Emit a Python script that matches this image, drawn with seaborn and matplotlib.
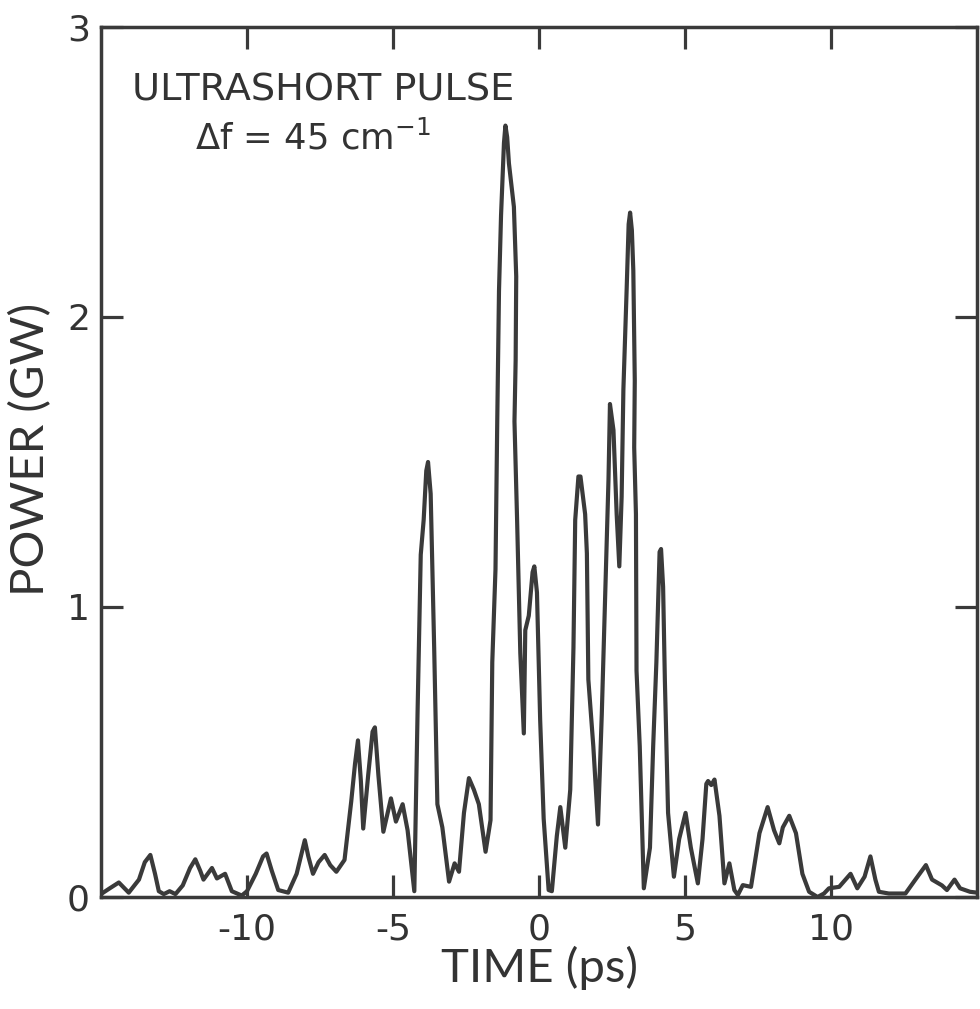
import matplotlib
matplotlib.use("Agg")
import matplotlib.pyplot as plt
import seaborn as sns
import pandas as pd

time_ps = [
    -15.0, -14.7, -14.39, -14.05, -13.7, -13.5, -13.31, -13.15, -13.02, -12.85,
    -12.65, -12.45, -12.2, -11.95, -11.77, -11.6, -11.49, -11.2, -11.03, -10.75,
    -10.52, -10.18, -10.0, -9.7, -9.45, -9.33, -9.15, -8.93, -8.59, -8.3,
    -8.02, -7.9, -7.74, -7.55, -7.34, -7.15, -6.94, -6.66, -6.43, -6.3,
    -6.2, -6.1, -6.02, -5.85, -5.70, -5.62, -5.5, -5.33, -5.07, -4.9, -4.67,
    -4.5, -4.27, -4.16, -4.05, -3.95, -3.86, -3.80, -3.71, -3.59, -3.48, -3.31,
    -3.08, -2.89, -2.74, -2.57, -2.40, -2.23, -2.06, -1.83, -1.66, -1.60,
    -1.49, -1.43, -1.37, -1.30, -1.20, -1.15, -1.09, -1.03, -0.86, -0.78, -0.80, -0.84,
    -0.75, -0.64, -0.52, -0.47, -0.35, -0.22, -0.16, -0.07, 0.04, 0.16, 0.33,
    0.44, 0.61, 0.73, 0.90, 1.07, 1.18, 1.24, 1.35, 1.42, 1.58, 1.64,
    1.69, 1.86, 2.02, 2.15, 2.28, 2.38, 2.43, 2.55, 2.66, 2.75,
    2.83, 2.89, 3.00, 3.07, 3.12, 3.18, 3.23, 3.28, 3.26, 3.32, 3.34, 3.45,
    3.59, 3.80, 3.91, 4.02, 4.13, 4.18, 4.25, 4.31, 4.42, 4.62, 4.80,
    5.02, 5.20, 5.44, 5.60, 5.73, 5.79, 5.90, 6.01, 6.18, 6.35,
    6.52, 6.69, 6.81, 6.98, 7.26, 7.55, 7.83, 8.05, 8.23, 8.35,
    8.57, 8.80, 9.02, 9.25, 9.54, 9.76, 9.93, 10.28, 10.67, 10.90,
    11.15, 11.35, 11.52, 11.64, 11.98, 12.55, 12.89, 13.25, 13.46, 13.80,
    13.97, 14.23, 14.42, 14.76, 15.0,
]
power_gw = [
    0.01, 0.03, 0.05, 0.015, 0.06, 0.12, 0.145, 0.08, 0.02, 0.01,
    0.02, 0.01, 0.04, 0.10, 0.13, 0.09, 0.06, 0.10, 0.064, 0.08,
    0.02, 0.005, 0.02, 0.08, 0.14, 0.15, 0.09, 0.024, 0.015, 0.08,
    0.196, 0.14, 0.08, 0.12, 0.145, 0.11, 0.087, 0.128, 0.33, 0.46,
    0.54, 0.40, 0.236, 0.42, 0.57, 0.585, 0.42, 0.225, 0.34, 0.26, 0.32,
    0.23, 0.02, 0.63, 1.18, 1.30, 1.47, 1.50, 1.39, 0.86, 0.32, 0.24,
    0.053, 0.116, 0.087, 0.29, 0.41, 0.37, 0.32, 0.156, 0.265, 0.81,
    1.13, 1.64, 2.09, 2.35, 2.60, 2.66, 2.62, 2.53, 2.38, 2.14, 1.85, 1.64,
    1.30, 0.84, 0.564, 0.92, 0.97, 1.12, 1.14, 1.05, 0.61, 0.27, 0.024,
    0.02, 0.21, 0.31, 0.17, 0.37, 0.86, 1.30, 1.45, 1.45, 1.32, 1.185,
    0.75, 0.52, 0.25, 0.63, 1.09, 1.44, 1.70, 1.61, 1.32, 1.14,
    1.38, 1.75, 2.09, 2.32, 2.36, 2.30, 2.16, 1.78, 1.55, 1.32, 0.78, 0.52,
    0.03, 0.17, 0.52, 0.81, 1.19, 1.20, 1.07, 0.75, 0.29, 0.07, 0.20,
    0.29, 0.17, 0.047, 0.20, 0.39, 0.40, 0.386, 0.405, 0.28, 0.047,
    0.116, 0.024, 0.007, 0.041, 0.035, 0.22, 0.31, 0.23, 0.185, 0.24,
    0.28, 0.22, 0.08, 0.018, 0.0, 0.012, 0.03, 0.035, 0.08, 0.03,
    0.07, 0.14, 0.06, 0.018, 0.012, 0.012, 0.06, 0.11, 0.06, 0.04,
    0.024, 0.06, 0.03, 0.018, 0.015,
]

x_ticks = [-10, -5, 0, 5, 10]
y_ticks = [0, 1, 2, 3]
x_tick_labels = ["-10", "-5", "0", "5", "10"]
y_tick_labels = ["0", "1", "2", "3"]

df = pd.DataFrame({"time": time_ps, "power": power_gw})

sns.set_theme(style="white")
plt.rcParams["font.family"] = ["DejaVu Sans"]
plt.rcParams["axes.unicode_minus"] = False

ink = "#3a3a3a"
txt = "#333333"
fig = plt.figure(figsize=(9.8, 10.09), dpi=100)
ax = fig.add_axes([101 / 980, 1 - 897 / 1009, 876 / 980, 870 / 1009])

sns.lineplot(data=df, x="time", y="power", sort=False, estimator=None,
             color=ink, linewidth=3.0, ax=ax)
for line in ax.get_lines():
    line.set_solid_joinstyle("round")
    line.set_solid_capstyle("round")

ax.set_xlim(-15, 15)
ax.set_ylim(0, 3)
ax.set_xticks(x_ticks)
ax.set_xticklabels(x_tick_labels)
ax.set_yticks(y_ticks)
ax.set_yticklabels(y_tick_labels)

for s in ax.spines.values():
    s.set_color(ink)
    s.set_linewidth(2.5)

ax.tick_params(axis="both", which="both", direction="in", length=16, width=2.3,
               colors=ink, labelcolor=txt, labelsize=26,
               top=True, right=True, bottom=True, left=True)
ax.tick_params(axis="x", pad=11)
ax.tick_params(axis="y", pad=8)

lato = ["Lato", "DejaVu Sans"]
ax.set_xlabel("TIME (ps)", fontsize=34, color=txt, labelpad=0, family=lato)
ax.set_ylabel("POWER (GW)", fontsize=34, color=txt, family=lato)
ax.yaxis.set_label_coords(-0.056, 0.514)

ax.text(0.035, 0.916, "ULTRASHORT PULSE", transform=ax.transAxes,
        fontsize=27.5, color=txt, ha="left", va="baseline")
ax.text(0.107, 0.859, r"$\Delta$f = 45 cm$^{-1}$", transform=ax.transAxes,
        fontsize=25.5, color=txt, ha="left", va="baseline")

fig.savefig("out.png", dpi=100, facecolor="white")
